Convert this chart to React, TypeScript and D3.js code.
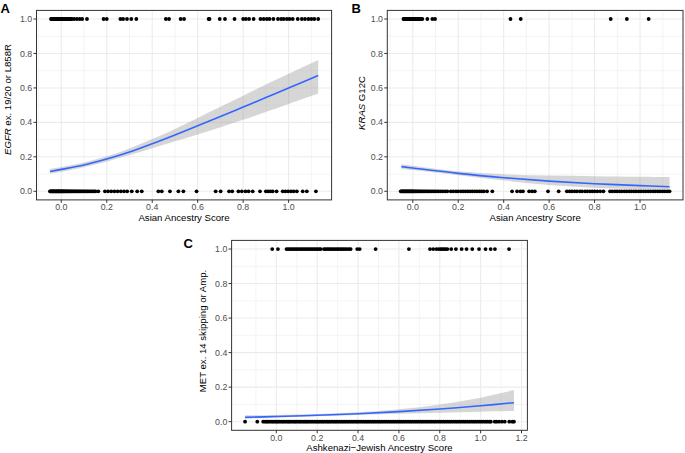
import React from 'react';
import * as d3 from 'd3';

// ---------- Panel A: EGFR vs Asian ancestry ----------
const egfrMutant = [
  -0.045, -0.042, -0.04, -0.037, -0.034, -0.032, -0.029, -0.026, -0.023, -0.021, -0.018, -0.015,
  -0.012, -0.009, -0.006, -0.003, 0.0, 0.003, 0.006, 0.009, 0.012, 0.016, 0.019, 0.023, 0.027,
  0.031, 0.035, 0.039, 0.043, 0.047, 0.057, 0.069, 0.081, 0.092, 0.113, 0.186, 0.2, 0.26, 0.272,
  0.289, 0.308, 0.33, 0.46, 0.474, 0.525, 0.54, 0.648, 0.652, 0.697, 0.72, 0.762, 0.8, 0.812,
  0.826, 0.846, 0.876, 0.89, 0.904, 0.916, 0.933, 0.953, 0.967, 0.978, 0.992, 1.004, 1.018,
  1.04, 1.058, 1.072, 1.087, 1.1, 1.113, 1.13,
];
const egfrWild = [
  -0.05, -0.047, -0.045, -0.043, -0.04, -0.038, -0.035, -0.033, -0.031, -0.028, -0.026, -0.023,
  -0.021, -0.018, -0.016, -0.013, -0.011, -0.009, -0.006, -0.004, -0.001, 0.001, 0.004, 0.006,
  0.009, 0.012, 0.015, 0.017, 0.021, 0.024, 0.027, 0.031, 0.034, 0.038, 0.041, 0.045, 0.049,
  0.053, 0.057, 0.061, 0.066, 0.07, 0.075, 0.079, 0.084, 0.089, 0.094, 0.099, 0.104, 0.11,
  0.115, 0.121, 0.127, 0.133, 0.139, 0.145, 0.151, 0.163, 0.192, 0.206, 0.22, 0.234, 0.248,
  0.262, 0.276, 0.29, 0.31, 0.334, 0.354, 0.427, 0.442, 0.478, 0.515, 0.537, 0.595, 0.679,
  0.701, 0.738, 0.752, 0.779, 0.794, 0.81, 0.824, 0.842, 0.874, 0.9, 0.91, 0.92, 0.93, 0.947,
  0.974, 0.986, 0.998, 1.01, 1.022, 1.036, 1.062, 1.08, 1.12,
];
const egfrFitX = [-0.05, 0.0, 0.1, 0.2, 0.3, 0.4, 0.5, 0.6, 0.7, 0.8, 0.9, 1.0, 1.13];
const egfrFit = [0.115, 0.127, 0.153, 0.187, 0.228, 0.276, 0.327, 0.38, 0.434, 0.489, 0.544, 0.6, 0.672];
const egfrLo = [0.102, 0.113, 0.14, 0.172, 0.21, 0.25, 0.29, 0.33, 0.372, 0.415, 0.46, 0.507, 0.568];
const egfrHi = [0.13, 0.141, 0.167, 0.203, 0.249, 0.303, 0.362, 0.425, 0.49, 0.555, 0.62, 0.682, 0.762];

// ---------- Panel B: KRAS G12C vs Asian ancestry ----------
const krasMutant = [
  -0.041, -0.038, -0.035, -0.032, -0.029, -0.026, -0.023, -0.02, -0.017, -0.014, -0.011,
  -0.008, -0.005, -0.002, 0.001, 0.004, 0.008, 0.012, 0.016, 0.02, 0.025, 0.03, 0.035, 0.042,
  0.064, 0.086, 0.098, 0.43, 0.475, 0.871, 0.942, 1.038,
];
const krasWild = [
  -0.053, -0.05, -0.047, -0.044, -0.041, -0.038, -0.035, -0.032, -0.029, -0.026, -0.023, -0.02,
  -0.017, -0.014, -0.011, -0.008, -0.005, -0.002, 0.001, 0.004, 0.008, 0.012, 0.016, 0.02,
  0.025, 0.03, 0.035, 0.04, 0.046, 0.052, 0.058, 0.064, 0.07, 0.077, 0.084, 0.091, 0.098,
  0.106, 0.114, 0.123, 0.132, 0.142, 0.152, 0.167, 0.178, 0.19, 0.2, 0.212, 0.222, 0.232,
  0.242, 0.252, 0.262, 0.272, 0.282, 0.293, 0.303, 0.313, 0.327, 0.35, 0.437, 0.459, 0.474,
  0.485, 0.512, 0.525, 0.537, 0.595, 0.642, 0.678, 0.69, 0.7, 0.712, 0.722, 0.735, 0.745,
  0.758, 0.768, 0.78, 0.79, 0.8, 0.812, 0.825, 0.839, 0.868, 0.878, 0.889, 0.899, 0.91, 0.92,
  0.931, 0.941, 0.952, 0.962, 0.973, 0.983, 0.994, 1.004, 1.015, 1.025, 1.036, 1.046, 1.057,
  1.067, 1.078, 1.088, 1.099, 1.109, 1.12, 1.13,
];
const krasFitX = [-0.05, 0.0, 0.2, 0.4, 0.6, 0.8, 1.0, 1.13];
const krasFit = [0.143, 0.135, 0.104, 0.079, 0.059, 0.044, 0.033, 0.026];
const krasLo = [0.13, 0.123, 0.093, 0.063, 0.037, 0.021, 0.012, 0.008];
const krasHi = [0.157, 0.148, 0.116, 0.099, 0.091, 0.088, 0.085, 0.083];

// ---------- Panel C: MET vs Ashkenazi-Jewish ancestry ----------
const metMutant = [
  -0.02, 0.008, 0.05, 0.058, 0.066, 0.074, 0.082, 0.09, 0.098, 0.106, 0.114, 0.122, 0.13,
  0.138, 0.146, 0.154, 0.162, 0.17, 0.178, 0.186, 0.194, 0.202, 0.21, 0.217, 0.233, 0.241,
  0.249, 0.257, 0.265, 0.273, 0.281, 0.29, 0.298, 0.306, 0.314, 0.322, 0.33, 0.338, 0.347,
  0.356, 0.364, 0.396, 0.408, 0.486, 0.649, 0.752, 0.768, 0.784, 0.796, 0.805, 0.812, 0.82,
  0.828, 0.837, 0.856, 0.879, 0.907, 0.931, 0.959, 0.992, 1.024, 1.049, 1.07, 1.139,
];
const metWild = [
  -0.153, -0.093, -0.064, -0.055, -0.047, -0.04, -0.031, -0.022, -0.015, -0.006, 0.002, 0.009,
  0.017, 0.026, 0.033, 0.041, 0.05, 0.058, 0.065, 0.073, 0.082, 0.09, 0.097, 0.106, 0.114,
  0.121, 0.13, 0.138, 0.146, 0.153, 0.162, 0.17, 0.178, 0.187, 0.195, 0.203, 0.21, 0.219,
  0.227, 0.235, 0.244, 0.252, 0.26, 0.268, 0.277, 0.285, 0.293, 0.301, 0.31, 0.318, 0.326,
  0.334, 0.343, 0.351, 0.36, 0.368, 0.376, 0.385, 0.393, 0.401, 0.41, 0.419, 0.427, 0.436,
  0.444, 0.452, 0.461, 0.47, 0.478, 0.487, 0.496, 0.505, 0.513, 0.522, 0.531, 0.54, 0.549,
  0.558, 0.567, 0.576, 0.585, 0.594, 0.603, 0.612, 0.621, 0.63, 0.64, 0.649, 0.658, 0.667,
  0.677, 0.686, 0.695, 0.705, 0.714, 0.723, 0.733, 0.742, 0.752, 0.761, 0.771, 0.78, 0.79,
  0.8, 0.809, 0.819, 0.828, 0.838, 0.848, 0.857, 0.867, 0.877, 0.886, 0.896, 0.906, 0.916,
  0.925, 0.935, 0.945, 0.955, 0.965, 0.974, 0.984, 0.994, 1.004, 1.014, 1.024, 1.033, 1.043,
  1.05, 1.069, 1.078, 1.09, 1.104, 1.118, 1.14, 1.155, 1.163,
];
const metFitX = [-0.153, 0.0, 0.2, 0.4, 0.6, 0.8, 1.0, 1.163];
const metFit = [0.025, 0.03, 0.037, 0.046, 0.058, 0.073, 0.092, 0.11];
const metLo = [0.017, 0.024, 0.031, 0.039, 0.046, 0.052, 0.058, 0.062];
const metHi = [0.036, 0.038, 0.044, 0.054, 0.072, 0.1, 0.139, 0.183];

const abTicks = [0, 0.2, 0.4, 0.6, 0.8, 1.0];
const cTicks = [0, 0.2, 0.4, 0.6, 0.8, 1.0, 1.2];
const yTicks = [0, 0.2, 0.4, 0.6, 0.8, 1.0];

const FONT = "'Liberation Sans', Arial, Helvetica, sans-serif";

type PanelProps = {
  left: number; right: number; top: number; bottom: number;
  pos: number[]; neg: number[];
  fitX: number[]; fit: number[]; lo: number[]; hi: number[];
  xTicks: number[];
  letter: string; letterX: number; letterY: number;
  yTitle: React.ReactNode; yTitleX: number; yTitleY: number;
  xTitle: string; xTitleY: number;
};

function Panel(p: PanelProps) {
  const all = p.pos.concat(p.neg);
  const [mn, mx] = d3.extent(all) as [number, number];
  const pad = (mx - mn) * 0.05;
  const x = d3.scaleLinear().domain([mn - pad, mx + pad]).range([p.left, p.right]);
  const y = d3.scaleLinear().domain([-0.05, 1.05]).range([p.bottom, p.top]);
  const [d0, d1] = x.domain();
  const fmt = d3.format('.1f');

  const xMinor: number[] = [];
  p.xTicks.forEach((t) => {
    [t - 0.1, t + 0.1].forEach((m) => {
      const r = Math.round(m * 10) / 10;
      if (r > d0 && r < d1 && !p.xTicks.some((q) => Math.abs(q - r) < 1e-6) && !xMinor.some((q) => Math.abs(q - r) < 1e-6)) xMinor.push(r);
    });
  });
  const yMinor = [0.1, 0.3, 0.5, 0.7, 0.9];

  const idx = p.fitX.map((_, i) => i);
  const area = d3.area<number>()
    .x((i) => x(p.fitX[i]))
    .y0((i) => y(p.lo[i]))
    .y1((i) => y(p.hi[i]))
    .curve(d3.curveCatmullRom);
  const line = d3.line<number>()
    .x((i) => x(p.fitX[i]))
    .y((i) => y(p.fit[i]))
    .curve(d3.curveCatmullRom);

  return (
    <g>
      <rect x={p.left} y={p.top} width={p.right - p.left} height={p.bottom - p.top} fill="#fff" />
      {xMinor.map((m) => (
        <line key={'xm' + m} x1={x(m)} x2={x(m)} y1={p.top} y2={p.bottom} stroke="#EBEBEB" strokeWidth={0.55} />
      ))}
      {yMinor.map((m) => (
        <line key={'ym' + m} y1={y(m)} y2={y(m)} x1={p.left} x2={p.right} stroke="#EBEBEB" strokeWidth={0.55} />
      ))}
      {p.xTicks.map((t) => (
        <line key={'xg' + t} x1={x(t)} x2={x(t)} y1={p.top} y2={p.bottom} stroke="#EBEBEB" strokeWidth={1.07} />
      ))}
      {yTicks.map((t) => (
        <line key={'yg' + t} y1={y(t)} y2={y(t)} x1={p.left} x2={p.right} stroke="#EBEBEB" strokeWidth={1.07} />
      ))}
      {p.pos.map((v, i) => (
        <circle key={'p' + i} cx={x(v)} cy={y(1)} r={1.9} fill="#000" />
      ))}
      {p.neg.map((v, i) => (
        <circle key={'n' + i} cx={x(v)} cy={y(0)} r={1.9} fill="#000" />
      ))}
      <path d={area(idx) || ''} fill="#999999" fillOpacity={0.4} />
      <path d={line(idx) || ''} fill="none" stroke="#3366FF" strokeWidth={1.6} />
      <rect x={p.left} y={p.top} width={p.right - p.left} height={p.bottom - p.top} fill="none" stroke="#333333" strokeWidth={1} />
      {p.xTicks.map((t) => (
        <g key={'xt' + t}>
          <line x1={x(t)} x2={x(t)} y1={p.bottom} y2={p.bottom + 3} stroke="#333333" strokeWidth={1} />
          <text x={x(t)} y={p.bottom + 10.4} textAnchor="middle" fontSize={8.8} fill="#4D4D4D" fontFamily={FONT}>{fmt(t)}</text>
        </g>
      ))}
      {yTicks.map((t) => (
        <g key={'yt' + t}>
          <line x1={p.left - 3} x2={p.left} y1={y(t)} y2={y(t)} stroke="#333333" strokeWidth={1} />
          <text x={p.left - 4.3} y={y(t) + 3.1} textAnchor="end" fontSize={8.8} fill="#4D4D4D" fontFamily={FONT}>{fmt(t)}</text>
        </g>
      ))}
      <text x={(p.left + p.right) / 2} y={p.xTitleY} textAnchor="middle" fontSize={9.6} fill="#000" fontFamily={FONT}>{p.xTitle}</text>
      <text transform={`translate(${p.yTitleX},${p.yTitleY}) rotate(-90)`} textAnchor="middle" fontSize={9.6} fill="#000" fontFamily={FONT}>{p.yTitle}</text>
      <text x={p.letterX} y={p.letterY} fontSize={13} fontWeight="bold" fill="#000" fontFamily={FONT}>{p.letter}</text>
    </g>
  );
}

export default function App() {
  return (
    <svg width={685} height={453} style={{ position: 'absolute', left: 0, top: 0, background: '#fff' }}>
      <rect x={0} y={0} width={685} height={453} fill="#fff" />
      <Panel
        left={36.5} right={331.6} top={10.4} bottom={199.9}
        pos={egfrMutant} neg={egfrWild}
        fitX={egfrFitX} fit={egfrFit} lo={egfrLo} hi={egfrHi}
        xTicks={abTicks}
        letter="A" letterX={0.5} letterY={12.8}
        yTitle={<><tspan fontStyle="italic">EGFR</tspan> ex. 19/20 or L858R</>}
        yTitleX={10.8} yTitleY={99.5}
        xTitle="Asian Ancestry Score" xTitleY={220.5}
      />
      <Panel
        left={387.3} right={683} top={10.4} bottom={199.9}
        pos={krasMutant} neg={krasWild}
        fitX={krasFitX} fit={krasFit} lo={krasLo} hi={krasHi}
        xTicks={abTicks}
        letter="B" letterX={351.5} letterY={12.8}
        yTitle={<><tspan fontStyle="italic">KRAS</tspan> G12C</>}
        yTitleX={364.5} yTitleY={103}
        xTitle="Asian Ancestry Score" xTitleY={220.5}
      />
      <Panel
        left={231.6} right={527.4} top={240.4} bottom={430.3}
        pos={metMutant} neg={metWild}
        fitX={metFitX} fit={metFit} lo={metLo} hi={metHi}
        xTicks={cTicks}
        letter="C" letterX={183.5} letterY={248.3}
        yTitle="MET ex. 14 skipping or Amp."
        yTitleX={206} yTitleY={331}
        xTitle="Ashkenazi−Jewish Ancestry Score" xTitleY={450.6}
      />
    </svg>
  );
}
